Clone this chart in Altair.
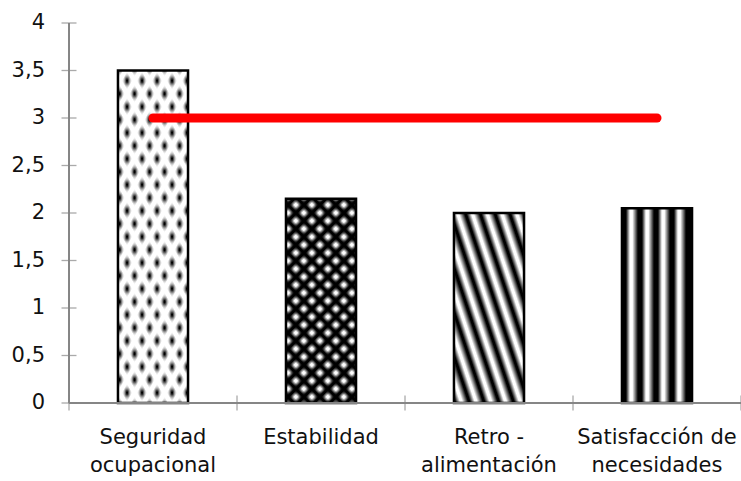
import math

import altair as alt
import pandas as pd

# Categorías, valores medidos y nivel de referencia
categorias = [
    "Seguridad\nocupacional",
    "Estabilidad",
    "Retro -\nalimentación",
    "Satisfacción de\nnecesidades",
]
valores = [3.5, 2.15, 2.0, 2.05]
meta = [3, 3, 3, 3]
marcas_y = [0, 0.5, 1, 1.5, 2, 2.5, 3, 3.5, 4]
etiquetas_y = ["0", "0,5", "1", "1,5", "2", "2,5", "3", "3,5", "4"]

# Geometría del área de trazado
ANCHO, ALTO = 672, 380
Y_MAX = 4
HUECO = 0.583
PASO_X = ANCHO / len(categorias)
ANCHO_BARRA = PASO_X * (1 - HUECO)
PX_UNIDAD = ALTO / Y_MAX

BLANCO, NEGRO = "#ffffff", "#000000"
BLANCO_0, NEGRO_0 = "rgba(255,255,255,0)", "rgba(0,0,0,0)"
GRIS = "#868686"
TEXTO = "#111111"
FUENTE = "DejaVu Sans"
TAM_FUENTE = 21


def paradas(n, perfil):
    """Repite un perfil de color n veces a lo largo de un degradado."""
    out = []
    for k in range(int(math.ceil(n)) + 1):
        for fase, color in perfil:
            off = (k + fase) / n
            if off <= 1:
                out.append(alt.GradientStop(color=color, offset=round(off, 5)))
    return out


def rejilla(n_u, n_v, perfil, sentido=1):
    """Franjas periódicas según n_u*u + sentido*n_v*v (coordenadas de la caja)."""
    n = n_u + n_v
    k = n / (n_u ** 2 + n_v ** 2)
    if sentido > 0:
        x1, y1, x2, y2 = 0, 0, k * n_u, k * n_v
    else:
        x1, y1, x2, y2 = 0, 1, k * n_u, 1 - k * n_v
    return alt.LinearGradient(
        gradient="linear", stops=paradas(n, perfil),
        x1=round(x1, 5), y1=round(y1, 5), x2=round(x2, 5), y2=round(y2, 5),
    )


def alto_barra(i):
    return valores[i] * PX_UNIDAD


# Perfiles de trama
cubre_blanco = [(0, BLANCO_0), (0.04, BLANCO_0), (0.36, BLANCO), (0.64, BLANCO), (0.96, BLANCO_0)]
cubre_negro = [(0, NEGRO_0), (0.1, NEGRO_0), (0.42, NEGRO), (0.58, NEGRO), (0.9, NEGRO_0)]
franja_diag = [(0, NEGRO), (0.12, NEGRO), (0.45, BLANCO), (0.6, BLANCO)]
franja_vert = [(0, NEGRO), (0.25, NEGRO), (0.5, BLANCO), (0.65, BLANCO)]

df = pd.DataFrame({
    "categoria": categorias,
    "valor": valores,
    "meta": meta,
    "orden": list(range(len(categorias))),
})
df_y = pd.DataFrame({"v": marcas_y, "etiqueta": etiquetas_y})

x = alt.X("categoria:N", sort=categorias, axis=None,
          scale=alt.Scale(paddingInner=HUECO, paddingOuter=HUECO / 2))
y_esc = alt.Scale(domain=[0, Y_MAX])
y = alt.Y("valor:Q", scale=y_esc, axis=None)
base = alt.Chart(df).encode(x=x, y=y)


def barra(i, relleno, borde=False):
    estilo = {"fill": relleno}
    if borde:
        estilo.update(stroke=NEGRO, strokeWidth=2.5)
    return base.transform_filter(alt.datum.orden == i).mark_bar(**estilo)


capas = []

# Seguridad ocupacional: óvalos oscuros escalonados sobre blanco
a, b = ANCHO_BARRA / 15, alto_barra(0) / 26
capas += [
    barra(0, NEGRO),
    barra(0, rejilla(a, b, cubre_blanco, 1)),
    barra(0, rejilla(a, b, cubre_blanco, -1), borde=True),
]

# Estabilidad: óvalos claros escalonados sobre negro
a, b = ANCHO_BARRA / 16, alto_barra(1) / 16
capas += [
    barra(1, BLANCO),
    barra(1, rejilla(a, b, cubre_negro, 1)),
    barra(1, rejilla(a, b, cubre_negro, -1), borde=True),
]

# Retroalimentación: franjas diagonales descendentes
paso = 14 * math.sqrt(10)
capas.append(barra(2, rejilla(3 * ANCHO_BARRA / paso, alto_barra(2) / paso,
                              franja_diag, -1), borde=True))

# Satisfacción de necesidades: franjas verticales
capas.append(barra(3, alt.LinearGradient(
    gradient="linear", stops=paradas(ANCHO_BARRA / 16, franja_vert),
    x1=0, y1=0, x2=1, y2=0), borde=True))

# Eje Y: línea, marcas cruzadas y etiquetas con coma decimal
eje_y_linea = alt.Chart(df_y).mark_rule(color=GRIS, strokeWidth=1.3).encode(
    x=alt.value(0),
    y=alt.Y(datum=Y_MAX, type="quantitative", scale=y_esc, axis=None),
    y2=alt.Y2(datum=0),
)
eje_y_marcas = alt.Chart(df_y).mark_tick(
    color=GRIS, thickness=1.3, size=15, orient="horizontal"
).encode(x=alt.value(0), y=alt.Y("v:Q", scale=y_esc, axis=None))
eje_y_textos = alt.Chart(df_y).mark_text(
    align="right", baseline="middle", font=FUENTE, fontSize=TAM_FUENTE, color=TEXTO
).encode(x=alt.value(-24), y=alt.Y("v:Q", scale=y_esc, axis=None), text="etiqueta:N")

# Eje X: línea, marcas en los límites de cada categoría y rótulos en dos líneas
eje_x_linea = alt.Chart(df_y).mark_rule(color=GRIS, strokeWidth=1.3).encode(
    x=alt.value(0), x2=alt.value(ANCHO),
    y=alt.Y(datum=0, type="quantitative", scale=y_esc, axis=None),
)
eje_x_marcas = alt.Chart(df).mark_tick(
    color=GRIS, thickness=1.3, size=15, orient="vertical", xOffset=-PASO_X / 2
).encode(x=x, y=alt.value(ALTO))
eje_x_fin = alt.Chart(df).transform_filter(
    alt.datum.orden == len(categorias) - 1
).mark_tick(
    color=GRIS, thickness=1.3, size=15, orient="vertical", xOffset=PASO_X / 2
).encode(x=x, y=alt.value(ALTO))

rotulos = alt.Chart(df).transform_calculate(
    partes="split(datum.categoria, '\\n')",
    linea1="datum.partes[0]",
    linea2="length(datum.partes) > 1 ? datum.partes[1] : ''",
)
estilo_rotulo = dict(align="center", baseline="middle",
                     font=FUENTE, fontSize=TAM_FUENTE, color=TEXTO)
eje_x_linea1 = rotulos.mark_text(**estilo_rotulo).encode(
    x=x, y=alt.value(ALTO + 35), text="linea1:N")
eje_x_linea2 = rotulos.mark_text(**estilo_rotulo).encode(
    x=x, y=alt.value(ALTO + 63), text="linea2:N")

capas += [eje_y_linea, eje_x_linea, eje_y_marcas, eje_x_marcas, eje_x_fin,
          eje_y_textos, eje_x_linea1, eje_x_linea2]

# Nivel de referencia
capas.append(
    base.mark_line(color="#ff0000", strokeWidth=9, strokeCap="round").encode(
        y=alt.Y("meta:Q", scale=y_esc, axis=None)
    )
)

chart = alt.layer(*capas).properties(
    width=ANCHO,
    height=ALTO,
    padding={"left": 69, "top": 23, "right": 0, "bottom": 78},
    autosize=alt.AutoSizeParams(type="none"),
).configure_view(stroke=None)

chart.save("out.html", embed_options={"renderer": "svg", "actions": False})
